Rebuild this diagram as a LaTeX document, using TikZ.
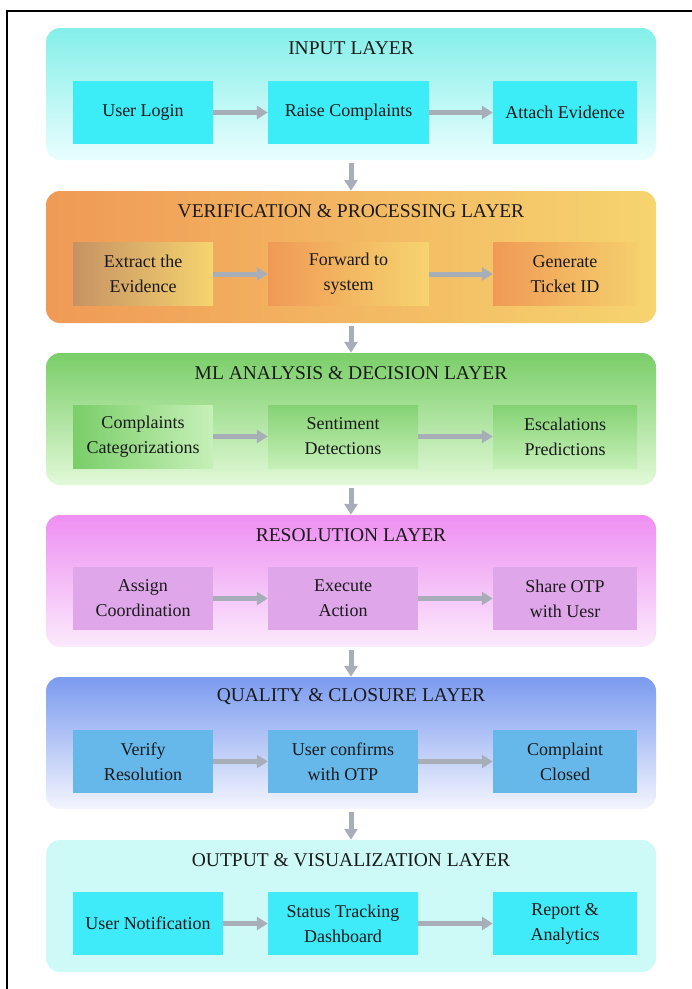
\documentclass[tikz,border=0pt]{standalone}
\usepackage{fontspec}
\setmainfont{Liberation Serif}
\newfontfamily\timesfont{Liberation Serif}
\usetikzlibrary{arrows.meta}

\definecolor{arrowgray}{HTML}{A7AEB8}
\definecolor{inA}{HTML}{84EFE9}
\definecolor{inB}{HTML}{E9FEFE}
\definecolor{inbox}{HTML}{3CEDF8}
\definecolor{verA}{HTML}{F09A55}
\definecolor{verB}{HTML}{F6D46F}
\definecolor{verC}{HTML}{C69264}
\definecolor{mlA}{HTML}{7ACE68}
\definecolor{mlB}{HTML}{E2F9D8}
\definecolor{mlC}{HTML}{84D273}
\definecolor{mlD}{HTML}{C6F0B8}
\definecolor{resA}{HTML}{EE8FF2}
\definecolor{resB}{HTML}{FBEAFC}
\definecolor{resbox}{HTML}{DFA7EA}
\definecolor{quA}{HTML}{7B9BEF}
\definecolor{quB}{HTML}{F3F5FE}
\definecolor{qubox}{HTML}{66B7EA}
\definecolor{outA}{HTML}{CDF9F6}
\definecolor{outB}{HTML}{A2F2EE}
\definecolor{outbox}{HTML}{3FEBF8}
\definecolor{ink}{HTML}{1A1A1A}

\begin{document}
\begin{tikzpicture}[x=1pt,y=-1pt,
	layer/.style={rounded corners=14pt,minimum width=610pt,minimum height=132pt,inner sep=0pt},
	ttl/.style={font=\timesfont\fontsize{19.5}{23}\selectfont,text=ink},
	box/.style={minimum height=63pt,inner sep=0pt,align=center,font=\timesfont\fontsize{18}{25}\selectfont,text=ink},
	harrow/.style={draw=arrowgray,line width=5pt,-{Triangle[width=13pt,length=11pt]}},
	varrow/.style={draw=arrowgray,line width=5pt,shorten <=3pt,-{Triangle[width=13pt,length=11pt]}}]
	\useasboundingbox (0,0) rectangle (692,989);
	\draw[line width=1.2pt] (7,989) -- (7,11) -- (692,11);
	% input layer
	\node[layer,top color=inA,bottom color=inB] (1) at (351,94) {};
	\node[ttl] (1t) at (351,48) {INPUT LAYER};
	\node[box,fill=inbox,minimum width=140pt] (1a) at (143,112.5) {User Login};
	\node[box,fill=inbox,minimum width=161pt] (1b) at (348.5,112.5) {Raise Complaints};
	\node[box,fill=inbox,minimum width=144pt] (1c) at (565,112.5) {Attach Evidence};
	\draw[harrow] (1a) -- (1b);
	\draw[harrow] (1b) -- (1c);
	% verification layer
	\node[layer,left color=verA,right color=verB] (2) at (351,257) {};
	\node[ttl] (2t) at (351,211) {VERIFICATION \& PROCESSING LAYER};
	\node[box,left color=verC,right color=verB,minimum width=140pt] (2a) at (143,274) {Extract the\\Evidence};
	\node[box,left color=verA,right color=verB,minimum width=161pt] (2b) at (348.5,274) {Forward to\\system};
	\node[box,left color=verA,right color=verB!90!verA,minimum width=144pt] (2c) at (565,274) {Generate\\Ticket ID};
	\draw[harrow] (2a) -- (2b);
	\draw[harrow] (2b) -- (2c);
	% ml layer
	\node[layer,top color=mlA,bottom color=mlB] (3) at (351,419) {};
	\node[ttl] (3t) at (351,373) {ML ANALYSIS \& DECISION LAYER};
	\node[box,left color=mlA,right color=mlD,minimum width=140pt] (3a) at (143,436.5) {Complaints\\Categorizations};
	\node[box,top color=mlC,bottom color=mlD,minimum width=150pt] (3b) at (343,436.5) {Sentiment\\Detections};
	\node[box,top color=mlC,bottom color=mlD,minimum width=144pt] (3c) at (565,436.5) {Escalations\\Predictions};
	\draw[harrow] (3a) -- (3b);
	\draw[harrow] (3b) -- (3c);
	% resolution layer
	\node[layer,top color=resA,bottom color=resB] (4) at (351,581) {};
	\node[ttl] (4t) at (351,535) {RESOLUTION LAYER};
	\node[box,fill=resbox,minimum width=140pt] (4a) at (143,598.5) {Assign\\Coordination};
	\node[box,fill=resbox,minimum width=150pt] (4b) at (343,598.5) {Execute\\Action};
	\node[box,fill=resbox,minimum width=144pt] (4c) at (565,598.5) {Share OTP\\with Uesr};
	\draw[harrow] (4a) -- (4b);
	\draw[harrow] (4b) -- (4c);
	% quality layer
	\node[layer,top color=quA,bottom color=quB] (5) at (351,743) {};
	\node[ttl] (5t) at (351,697) {QUALITY \& CLOSURE LAYER};
	\node[box,fill=qubox,minimum width=140pt] (5a) at (143,761.5) {Verify\\Resolution};
	\node[box,fill=qubox,minimum width=150pt] (5b) at (343,761.5) {User confirms\\with OTP};
	\node[box,fill=qubox,minimum width=144pt] (5c) at (565,761.5) {Complaint\\Closed};
	\draw[harrow] (5a) -- (5b);
	\draw[harrow] (5b) -- (5c);
	% output layer
	\node[layer,left color=outA,middle color=outB,right color=outA] (6) at (351,906) {};
	\node[ttl] (6t) at (351,860) {OUTPUT \& VISUALIZATION LAYER};
	\node[box,fill=outbox,minimum width=150pt] (6a) at (148,923.5) {User Notification};
	\node[box,fill=outbox,minimum width=150pt] (6b) at (343,923.5) {Status Tracking\\Dashboard};
	\node[box,fill=outbox,minimum width=144pt] (6c) at (565,923.5) {Report \&\\Analytics};
	\draw[harrow] (6a) -- (6b);
	\draw[harrow] (6b) -- (6c);
	% between layers
	\draw[varrow] (1) -- (2);
	\draw[varrow] (2) -- (3);
	\draw[varrow] (3) -- (4);
	\draw[varrow] (4) -- (5);
	\draw[varrow] (5) -- (6);
\end{tikzpicture}
\end{document}
